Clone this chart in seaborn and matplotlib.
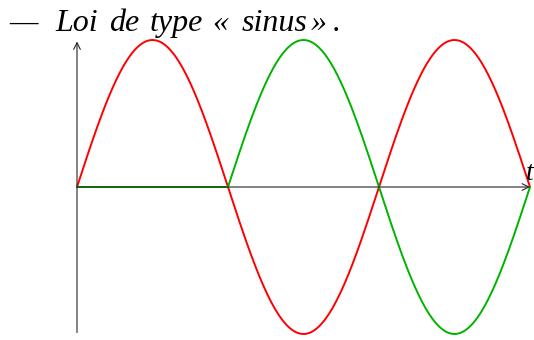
import numpy as np
import pandas as pd
import matplotlib
matplotlib.use("Agg")
import matplotlib.pyplot as plt
import seaborn as sns

# Valeurs : une demi-période par arche
half_periods = ["0-pi", "pi-2pi", "2pi-3pi"]
red_signs = [1, -1, 1]      # courbe rouge : sinus
green_signs = [0, 1, -1]    # courbe verte : nulle puis sinus décalé
amplitude = 1.0
title_words = ["—", "Loi", "de", "type", "«", "sinus", "»", "."]
axis_label = "t"

COLOR_RED = "#ff0000"
COLOR_GREEN = "#00b300"

sns.set_theme(style="white")
plt.rcParams["font.family"] = ["Liberation Serif", "DejaVu Serif"]
plt.rcParams["text.color"] = "black"


def build_curve(signs, name):
    rows = []
    for k, s in enumerate(signs):
        u = np.linspace(0, np.pi, 120)
        for ui in u:
            rows.append({"t": k * np.pi + ui, "y": s * amplitude * np.sin(ui), "curve": name})
    return pd.DataFrame(rows)


df = pd.concat([build_curve(red_signs, "rouge"), build_curve(green_signs, "vert")])

fig = plt.figure(figsize=(5.34, 3.40), dpi=100)
ax = fig.add_axes([77 / 534, 6 / 340, 453 / 534, 294 / 340])
ax.set_xlim(0, 3 * np.pi)
ax.set_ylim(-1, 1)
ax.axis("off")

# axes avec flèches
arrow = dict(arrowstyle="->", color="#262626", lw=0.8, shrinkA=0, shrinkB=0)
ax.annotate("", xy=(3 * np.pi, 0), xytext=(0, 0), arrowprops=arrow, annotation_clip=False)
ax.annotate("", xy=(0, 0.99), xytext=(0, -0.99), arrowprops=arrow, annotation_clip=False)

sns.lineplot(data=df, x="t", y="y", hue="curve", palette={"rouge": COLOR_RED, "vert": COLOR_GREEN},
             linewidth=1.4, legend=False, ax=ax, sort=False, estimator=None)
for line in ax.get_lines():
    line.set_clip_on(False)

ax.text(3 * np.pi, 0.048, axis_label, fontsize=20, style="italic", ha="center", va="baseline")

# titre mot par mot, pour garder l'espacement large de l'original
word_x = [9, 55, 109, 150, 212, 242, 311, 333]
for w, x in zip(title_words, word_x):
    fig.text(x / 534, 1 - 31 / 340, w, fontsize=23, style="italic", ha="left", va="baseline")

fig.savefig("out.png", dpi=100)
